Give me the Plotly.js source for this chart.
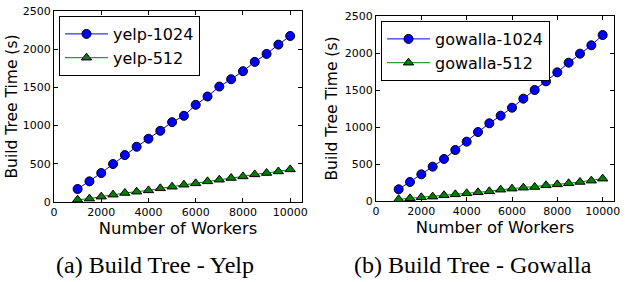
<!DOCTYPE html>
<html>
<head>
<meta charset="utf-8">
<script src="https://cdn.plot.ly/plotly-3.0.1.min.js"></script>
<style>html,body{margin:0;padding:0;background:#fff;}#chart{width:626px;height:282px;}</style>
</head>
<body>
<div id="chart"></div>
<script>
const workers = [1000,1500,2000,2500,3000,3500,4000,4500,5000,5500,6000,6500,7000,7500,8000,8500,9000,9500,10000];
const yelp1024 = [170,270,379,497,614,723,828,932,1045,1128,1272,1381,1511,1607,1712,1834,1938,2060,2173];
const yelp512 = [30,44,70,96,118,135,152,179,200,226,244,270,292,314,335,361,379,400,427];
const gowalla1024 = [158,257,360,464,568,689,802,932,1050,1153,1261,1383,1500,1617,1739,1869,1991,2104,2243];
const gowalla512 = [23,36,50,59,77,90,104,117,131,153,167,180,189,212,225,239,257,275,302];
const seriesNames = ['yelp-1024','yelp-512','gowalla-1024','gowalla-512'];
const xTickVals = [0,2000,4000,6000,8000,10000];
const xTickText = ['0','2000','4000','6000','8000','10000'];
const yTickVals = [0,500,1000,1500,2000,2500];
const yTickText = ['0','500','1000','1500','2000','2500'];
const captions = ['(a) Build Tree - Yelp','(b) Build Tree - Gowalla'];
const xTitle = 'Number of Workers';
const yTitle = 'Build Tree Time (s)';

const W = 626, H = 282;
const px = v => v / W, py = v => 1 - v / H;

function circ(name, x, y, xa, ya, lg) {
  return {x, y, name, xaxis: xa, yaxis: ya, legend: lg, type: 'scatter', mode: 'lines+markers',
    line: {color: '#0000ff', width: 1},
    marker: {symbol: 'circle', size: 9, color: '#0000ff', line: {color: '#000', width: 1}}};
}
function tri(name, x, y, xa, ya, lg) {
  return {x, y, name, xaxis: xa, yaxis: ya, legend: lg, type: 'scatter', mode: 'lines+markers',
    line: {color: '#008000', width: 1},
    marker: {symbol: 'triangle-up', size: 9, color: '#008000', line: {color: '#000', width: 1}}};
}
const data = [
  circ(seriesNames[0], workers, yelp1024, 'x', 'y', 'legend'),
  tri(seriesNames[1], workers, yelp512, 'x', 'y', 'legend'),
  circ(seriesNames[2], workers, gowalla1024, 'x2', 'y2', 'legend2'),
  tri(seriesNames[3], workers, gowalla512, 'x2', 'y2', 'legend2')
];

const tickFont = {family: 'DejaVu Sans', size: 11, color: '#000'};
function xax(l, r, anchor) {
  return {domain: [px(l), px(r)], anchor, range: [0, 10500], tickvals: xTickVals, ticktext: xTickText,
    ticks: 'inside', ticklen: 4, tickcolor: '#000', mirror: 'ticks', showline: true, linecolor: '#000', linewidth: 1,
    showgrid: false, zeroline: false, tickfont: tickFont, fixedrange: true,
    title: {text: xTitle, font: {family: 'DejaVu Sans', size: 16.4, color: '#000'}, standoff: 1}};
}
function yax(t, b, anchor, so) {
  return {domain: [py(b), py(t)], anchor, range: [0, 2500], tickvals: yTickVals, ticktext: yTickText,
    ticks: 'inside', ticklen: 4, tickcolor: '#000', mirror: 'ticks', showline: true, linecolor: '#000', linewidth: 1,
    showgrid: false, zeroline: false, tickfont: tickFont, fixedrange: true,
    title: {text: yTitle, font: {family: 'DejaVu Sans', size: 15.5, color: '#000'}, standoff: so}};
}
const legendBase = {bgcolor: '#fff', bordercolor: '#000', borderwidth: 1, font: {family: 'DejaVu Sans', size: 16, color: '#000'},
  xanchor: 'left', yanchor: 'top', itemwidth: 43, tracegroupgap: 0};
const capFont = {family: 'Liberation Serif', size: 24, color: '#000'};
const layout = {
  width: W, height: H, margin: {l: 0, r: 0, t: 0, b: 0}, paper_bgcolor: '#fff', plot_bgcolor: '#fff', showlegend: true,
  xaxis: xax(54, 302, 'y'), yaxis: yax(11, 202, 'x', 1),
  xaxis2: xax(376, 614, 'y2'), yaxis2: yax(16, 201, 'x2', 3),
  legend: Object.assign({}, legendBase, {x: px(59), y: py(16)}),
  legend2: Object.assign({}, legendBase, {x: px(381), y: py(21)}),
  annotations: [
    {text: captions[0], xref: 'paper', yref: 'paper', x: px(155), y: py(265), xanchor: 'center', yanchor: 'middle', showarrow: false, font: capFont},
    {text: captions[1], xref: 'paper', yref: 'paper', x: px(473), y: py(265), xanchor: 'center', yanchor: 'middle', showarrow: false, font: capFont}
  ]
};
Plotly.newPlot('chart', data, layout, {displayModeBar: false, staticPlot: true});
</script>
</body>
</html>
